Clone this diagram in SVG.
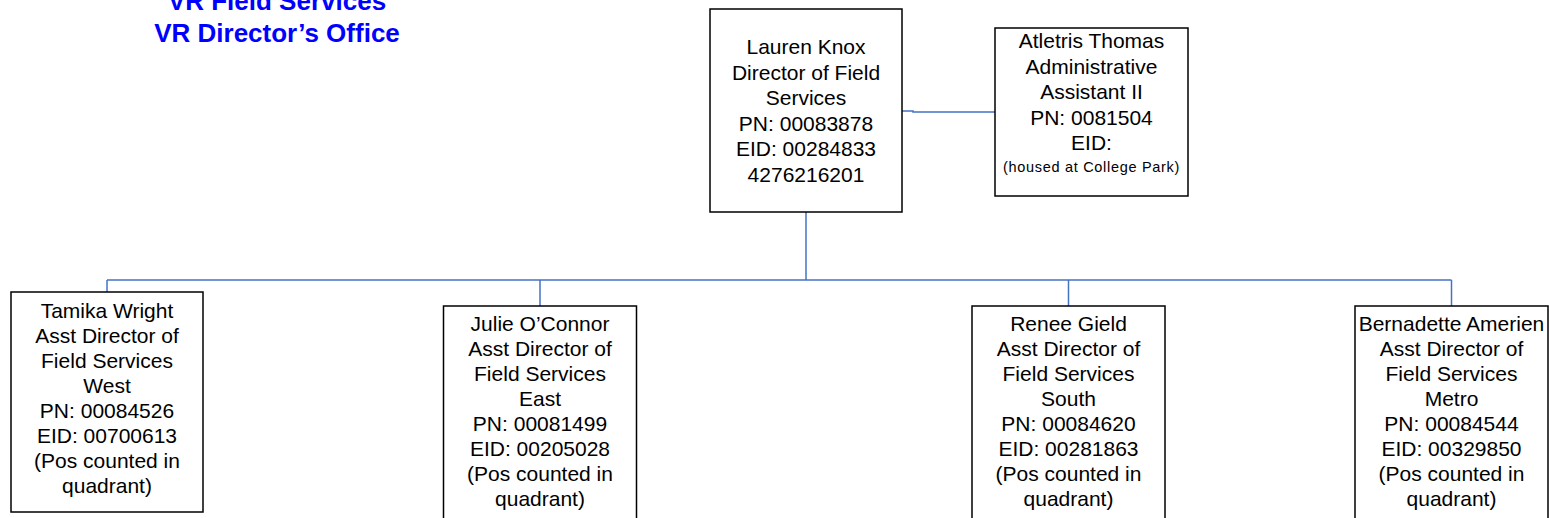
<svg xmlns="http://www.w3.org/2000/svg" width="1549" height="518" viewBox="0 0 1549 518">
<style>
.box{fill:#fff;stroke:#000;stroke-width:1.5}
.t{font-family:"Liberation Sans",Arial,sans-serif;font-size:21px;fill:#000;text-anchor:middle}
.s{font-family:"Liberation Sans",Arial,sans-serif;font-size:14.5px;letter-spacing:0.7px;fill:#000;text-anchor:middle}
.title{font-family:"Liberation Sans",Arial,sans-serif;font-size:26px;font-weight:bold;fill:#0000FF;text-anchor:middle}
.c{fill:none;stroke:#4472C4;stroke-width:1.5}
</style>
<rect width="1549" height="518" fill="#fff"/>
<g id="title">
<text class="title" x="277" y="10">VR Field Services</text>
<text class="title" x="277" y="42">VR Director’s Office</text>
</g>
<g id="connectors">
<polyline class="c" points="902,111 913,111 913,112 995,112"/>
<line class="c" x1="806" y1="212" x2="806" y2="280"/>
<line class="c" x1="107" y1="280" x2="1451.5" y2="280"/>
<line class="c" x1="107" y1="280" x2="107" y2="292"/>
<line class="c" x1="540" y1="280" x2="540" y2="306"/>
<line class="c" x1="1068.5" y1="280" x2="1068.5" y2="306"/>
<line class="c" x1="1451.5" y1="280" x2="1451.5" y2="306"/>
</g>
<g id="lauren">
<rect class="box" x="710" y="9" width="192" height="203"/>
<text class="t" x="806" y="54">Lauren Knox</text>
<text class="t" x="806" y="79.5">Director of Field</text>
<text class="t" x="806" y="105">Services</text>
<text class="t" x="806" y="130.5">PN: 00083878</text>
<text class="t" x="806" y="156">EID: 00284833</text>
<text class="t" x="806" y="181.5">4276216201</text>
</g>
<g id="atletris">
<rect class="box" x="995" y="28" width="193" height="168"/>
<text class="t" x="1091.5" y="48">Atletris Thomas</text>
<text class="t" x="1091.5" y="73.5">Administrative</text>
<text class="t" x="1091.5" y="99">Assistant II</text>
<text class="t" x="1091.5" y="124.5">PN: 0081504</text>
<text class="t" x="1091.5" y="150">EID:</text>
<text class="s" x="1091.5" y="172">(housed at College Park)</text>
</g>
<g id="tamika">
<rect class="box" x="11" y="292" width="192" height="220"/>
<text class="t" x="107" y="317.5">Tamika Wright</text>
<text class="t" x="107" y="342.5">Asst Director of</text>
<text class="t" x="107" y="367.5">Field Services</text>
<text class="t" x="107" y="392.5">West</text>
<text class="t" x="107" y="417.5">PN: 00084526</text>
<text class="t" x="107" y="442.5">EID: 00700613</text>
<text class="t" x="107" y="467.5">(Pos counted in</text>
<text class="t" x="107" y="492.5">quadrant)</text>
</g>
<g id="julie">
<rect class="box" x="443.5" y="306" width="193" height="220"/>
<text class="t" x="540" y="331">Julie O’Connor</text>
<text class="t" x="540" y="356">Asst Director of</text>
<text class="t" x="540" y="381">Field Services</text>
<text class="t" x="540" y="406">East</text>
<text class="t" x="540" y="431">PN: 00081499</text>
<text class="t" x="540" y="456">EID: 00205028</text>
<text class="t" x="540" y="481">(Pos counted in</text>
<text class="t" x="540" y="506">quadrant)</text>
</g>
<g id="renee">
<rect class="box" x="972" y="306" width="193" height="220"/>
<text class="t" x="1068.5" y="331">Renee Gield</text>
<text class="t" x="1068.5" y="356">Asst Director of</text>
<text class="t" x="1068.5" y="381">Field Services</text>
<text class="t" x="1068.5" y="406">South</text>
<text class="t" x="1068.5" y="431">PN: 00084620</text>
<text class="t" x="1068.5" y="456">EID: 00281863</text>
<text class="t" x="1068.5" y="481">(Pos counted in</text>
<text class="t" x="1068.5" y="506">quadrant)</text>
</g>
<g id="bernadette">
<rect class="box" x="1355" y="306" width="193" height="220"/>
<text class="t" x="1451.5" y="331">Bernadette Amerien</text>
<text class="t" x="1451.5" y="356">Asst Director of</text>
<text class="t" x="1451.5" y="381">Field Services</text>
<text class="t" x="1451.5" y="406">Metro</text>
<text class="t" x="1451.5" y="431">PN: 00084544</text>
<text class="t" x="1451.5" y="456">EID: 00329850</text>
<text class="t" x="1451.5" y="481">(Pos counted in</text>
<text class="t" x="1451.5" y="506">quadrant)</text>
</g>
</svg>
